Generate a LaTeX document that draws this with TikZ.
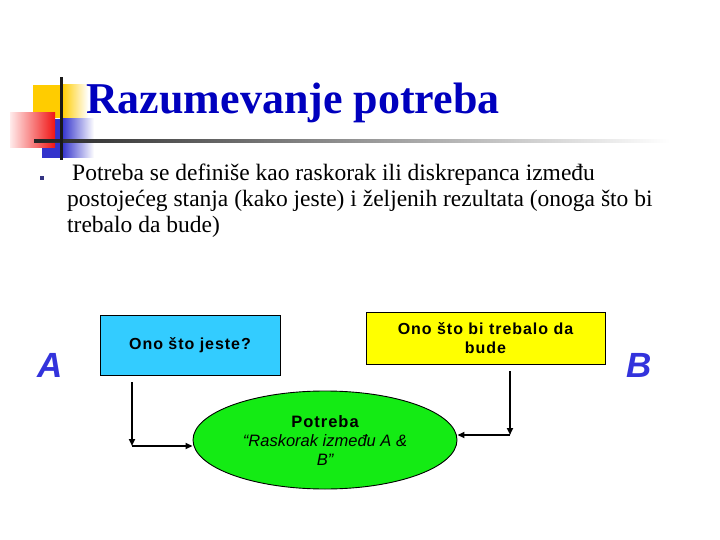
\documentclass[tikz,border=0pt]{standalone}
\usepackage{fontspec}
\setmainfont{Liberation Serif}
\setsansfont{Liberation Sans}
\newfontfamily\boxfont[LetterSpace=6]{Liberation Sans}
\usetikzlibrary{shapes.geometric,arrows.meta}
\definecolor{titleblue}{RGB}{0,0,190}
\definecolor{letterblue}{RGB}{51,51,220}
\definecolor{decoyellow}{RGB}{255,204,0}
\definecolor{decoblue}{RGB}{51,51,204}
\definecolor{decored}{RGB}{240,20,20}
\definecolor{boxcyan}{RGB}{51,204,255}
\definecolor{boxyellow}{RGB}{255,255,0}
\definecolor{ellgreen}{RGB}{20,235,20}
\definecolor{bulletblue}{RGB}{51,51,130}
\tikzset{
  boxnode/.style={draw=black, line width=0.9pt, rectangle, inner sep=0pt, align=center, font=\boxfont\bfseries\fontsize{16}{19}\selectfont},
  ellnode/.style={draw=black, line width=0.9pt, ellipse, inner sep=0pt, align=center},
  arr/.style={line width=1.8pt, -{Triangle[length=7pt,width=6pt]}},
  bodytext/.style={anchor=base west, inner sep=0pt, font=\fontsize{23.5}{26}\selectfont},
  letter/.style={anchor=base, inner sep=0pt, text=letterblue, font=\sffamily\bfseries\itshape\fontsize{35}{40}\selectfont}
}
\begin{document}
\begin{tikzpicture}[x=1pt,y=-1pt]
\useasboundingbox (0,0) rectangle (720,540);
% decoration
\fill[decoyellow] (33,85) rectangle (62,118);
\shade[left color=decoyellow, right color=white] (62,85) rectangle (88,118);
\fill[decoblue] (42,119) rectangle (62,158);
\shade[left color=decoblue, right color=white] (62,119) rectangle (94,158);
\shade[left color=red!8, right color=decored] (10,113) rectangle (55,148);
\shade[left color=black!85, right color=white] (34,139.5) rectangle (670,142.5);
\fill[black!85] (34,139.5) rectangle (62,142.5);
\fill[black!90] (59.5,77) rectangle (62.5,160);
% title
\node[anchor=base west, inner sep=0pt, text=titleblue, font=\bfseries\fontsize{44}{50}\selectfont] (title) at (86,114) {Razumevanje potreba};
% bullet text
\fill[bulletblue] (40,176) rectangle (44,180) coordinate (bul);
\node[bodytext] (l1) at (72,181) {Potreba se definiše kao raskorak ili diskrepanca između};
\node[bodytext] (l2) at (67,207) {postojećeg stanja (kako jeste) i željenih rezultata (onoga što bi};
\node[bodytext] (l3) at (67,233) {trebalo da bude)};
% boxes
\node[boxnode, fill=boxcyan, minimum width=180pt, minimum height=60pt] (cyan) at (190,345) {Ono što jeste?};
\node[boxnode, fill=boxyellow, minimum width=239pt, minimum height=52pt] (yel) at (485.5,338) {Ono što bi trebalo da\\bude};
\node[ellnode, fill=ellgreen, minimum width=264pt, minimum height=98pt] (ell) at (325,440) {};
\node[align=center, inner sep=0pt, font=\sffamily\fontsize{16.5}{19}\selectfont] (elltext) at (325,441) {{\boxfont\bfseries Potreba}\\\itshape “Raskorak između A \&\\\itshape B”};
% letters
\node[letter] (A) at (50.5,377) {A};
\node[letter] (B) at (639.5,377) {B};
% connectors
\coordinate (cL) at (132,446);
\coordinate (cR) at (510,435);
\draw[arr] ([yshift=-7pt]cyan.south -| cL) -- (cL);
\draw[arr] (cL) -- (ell.west |- cL);
\draw[arr] ([yshift=-7pt]yel.south -| cR) -- (cR);
\draw[arr] (cR) -- (ell.east |- cR);
\end{tikzpicture}
\end{document}
